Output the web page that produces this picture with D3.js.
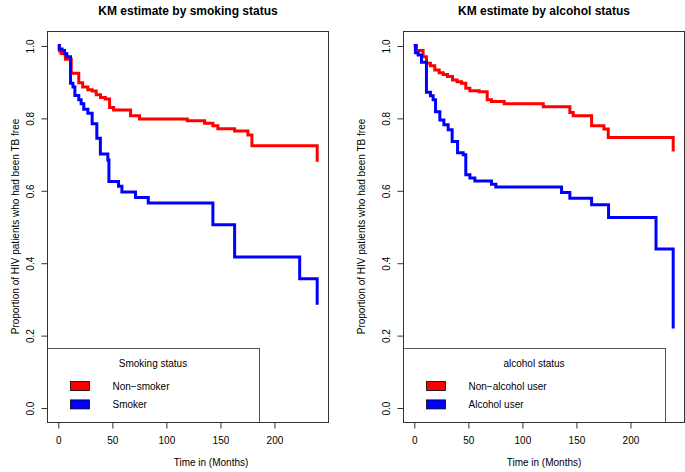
<!DOCTYPE html>
<html>
<head>
<meta charset="utf-8">
<script src="https://cdn.jsdelivr.net/npm/d3@7"></script>
<style>
  html, body { margin: 0; padding: 0; background: #fff; }
  svg { display: block; }
  text { font-family: "Liberation Sans", Arial, Helvetica, sans-serif; fill: #000; }
</style>
</head>
<body>
<svg id="chart" width="685" height="472"></svg>
<script>
// ---------- data ----------
const xTicks = [0, 50, 100, 150, 200];
const yTicks = [0.0, 0.2, 0.4, 0.6, 0.8, 1.0];
const yTickLabels = ["0.0", "0.2", "0.4", "0.6", "0.8", "1.0"];

const panelTitles = ["KM estimate by smoking status", "KM estimate by alcohol status"];
const legendTitles = ["Smoking status", "alcohol status"];
const groupLabelsSmoking = ["Non\u2212smoker", "Smoker"];
const groupLabelsAlcohol = ["Non\u2212alcohol user", "Alcohol user"];
const xLabel = "Time in (Months)";
const yLabel = "Proportion of HIV patients who had been TB free";

// Non-smoker (red)
const nonSmokerTime = [1.5, 3, 7, 12.4, 19.4, 23, 27.8, 31.8, 35.5, 39.5, 43.9, 47.9, 51.6, 67.3, 75.6, 119.8, 135.8, 143.5, 148.1, 163.6, 175.9, 179.6, 240];
const nonSmokerSurv = [0.985, 0.978, 0.962, 0.923, 0.897, 0.885, 0.878, 0.874, 0.864, 0.856, 0.852, 0.829, 0.822, 0.806, 0.797, 0.792, 0.785, 0.778, 0.770, 0.764, 0.753, 0.723, 0.679];
// Smoker (blue)
const smokerTime = [1.3, 4, 6.2, 8.4, 11.8, 14, 15.8, 19.4, 21.6, 24, 27.8, 31.8, 36.1, 39.4, 46.3, 47.3, 56.2, 59.3, 71.9, 83.7, 143.5, 163.6, 223.8, 240];
const smokerSurv = [0.990, 0.986, 0.977, 0.969, 0.896, 0.885, 0.862, 0.850, 0.839, 0.824, 0.813, 0.784, 0.744, 0.700, 0.684, 0.624, 0.611, 0.595, 0.580, 0.565, 0.505, 0.416, 0.356, 0.284];
// Non-alcohol user (red)
const nonAlcoholTime = [2.5, 8.6, 11.7, 15.4, 19.4, 23.5, 27.2, 31.2, 35.8, 40.1, 44.1, 48.1, 51.9, 60.5, 67.9, 71.9, 83.6, 119.8, 144.4, 147.5, 164.5, 175.9, 179.9, 240];
const nonAlcoholSurv = [0.986, 0.969, 0.951, 0.944, 0.932, 0.925, 0.920, 0.914, 0.905, 0.900, 0.896, 0.882, 0.875, 0.872, 0.850, 0.845, 0.839, 0.831, 0.815, 0.806, 0.778, 0.769, 0.746, 0.707];
// Alcohol user (blue)
const alcoholTime = [1.5, 4, 7.1, 11.7, 15.4, 17.9, 20.1, 24.1, 27.8, 31.8, 35.5, 40.5, 45.7, 48.1, 51.9, 56.5, 71.9, 75.9, 136.7, 144.4, 164.5, 180.2, 224.1, 240];
const alcoholSurv = [0.980, 0.974, 0.954, 0.871, 0.861, 0.850, 0.817, 0.794, 0.781, 0.767, 0.735, 0.704, 0.698, 0.643, 0.634, 0.626, 0.617, 0.609, 0.594, 0.578, 0.560, 0.525, 0.438, 0.218];

const groupColors = ["#FF0000", "#0000FF"];

// ---------- layout ----------
const svg = d3.select("#chart");
svg.append("rect").attr("width", 685).attr("height", 472).attr("fill", "#fff");

const panels = [
  { left: 47, right: 328, title: panelTitles[0], titleX: 188, xLabelX: 211, yLabelX: 15,
    legendTitle: legendTitles[0], labels: groupLabelsSmoking, legendRight: 259,
    series: [[nonSmokerTime, nonSmokerSurv], [smokerTime, smokerSurv]] },
  { left: 403, right: 684, title: panelTitles[1], titleX: 544, xLabelX: 544, yLabelX: 361,
    legendTitle: legendTitles[1], labels: groupLabelsAlcohol, legendRight: 665,
    series: [[nonAlcoholTime, nonAlcoholSurv], [alcoholTime, alcoholSurv]] }
];
const plotTop = 31, plotBottom = 422;

panels.forEach(p => {
  const x = d3.scaleLinear().domain([-10, 250]).range([p.left, p.right]);
  const y = d3.scaleLinear().domain([-0.04, 1.04]).range([plotBottom, plotTop]);
  const g = svg.append("g");

  // title
  g.append("text").attr("x", p.titleX).attr("y", 15)
    .attr("text-anchor", "middle").attr("font-size", 12).attr("font-weight", "bold")
    .text(p.title);

  // curves
  const line = d3.line().x(d => x(d[0])).y(d => y(d[1])).curve(d3.curveStepAfter);
  p.series.forEach(([t, s], i) => {
    const pts = [[0, 1]].concat(t.map((ti, k) => [ti, s[k]]));
    g.append("path").attr("d", line(pts)).attr("fill", "none")
      .attr("stroke", groupColors[i]).attr("stroke-width", 3)
      .attr("stroke-linejoin", "miter").attr("stroke-linecap", "butt");
  });

  // legend box
  const lt = 348;
  g.append("rect").attr("x", p.left + 0.5).attr("y", lt + 0.5)
    .attr("width", p.legendRight - p.left).attr("height", plotBottom - lt)
    .attr("fill", "#fff").attr("stroke", "#555").attr("stroke-width", 1);
  g.append("text").attr("x", (p.left + p.legendRight) / 2).attr("y", 367)
    .attr("text-anchor", "middle").attr("font-size", 10).text(p.legendTitle);
  p.labels.forEach((lab, i) => {
    const yy = 381 + i * 18.4;
    g.append("rect").attr("x", p.left + 23.5).attr("y", yy + 0.5)
      .attr("width", 19).attr("height", 9)
      .attr("fill", groupColors[i]).attr("stroke", "#000").attr("stroke-width", 0.8);
    g.append("text").attr("x", p.left + 65.5).attr("y", yy + 8.5)
      .attr("font-size", 10).text(lab);
  });

  // frame
  g.append("rect").attr("x", p.left + 0.5).attr("y", plotTop + 0.5)
    .attr("width", p.right - p.left).attr("height", plotBottom - plotTop)
    .attr("fill", "none").attr("stroke", "#333").attr("stroke-width", 1);

  // x axis
  const xa = g.append("g").attr("transform", `translate(0.5,${plotBottom + 0.5})`)
    .call(d3.axisBottom(x).tickValues(xTicks).tickSize(6).tickPadding(8).tickFormat(d3.format("d")));
  xa.select(".domain").remove();
  xa.selectAll("line").attr("stroke", "#333");
  xa.selectAll("text").attr("font-size", 10).attr("font-family", null);

  // y axis
  const ya = g.append("g").attr("transform", `translate(${p.left + 0.5},0.5)`)
    .call(d3.axisLeft(y).tickValues(yTicks).tickSize(6).tickFormat((d, i) => yTickLabels[i]));
  ya.select(".domain").remove();
  ya.selectAll("line").attr("stroke", "#333");
  ya.selectAll("text").attr("font-size", 10).attr("font-family", null)
    .attr("text-anchor", "middle").attr("x", null).attr("dy", null)
    .attr("transform", "translate(-14,0) rotate(-90)")
    .attr("y", 0);

  // axis labels
  g.append("text").attr("x", p.xLabelX).attr("y", 466)
    .attr("text-anchor", "middle").attr("font-size", 10).text(xLabel);
  g.append("text").attr("transform", `translate(${p.yLabelX + 3.5},${(plotTop + plotBottom) / 2}) rotate(-90)`)
    .attr("text-anchor", "middle").attr("font-size", 10).text(yLabel);
});
</script>
</body>
</html>
